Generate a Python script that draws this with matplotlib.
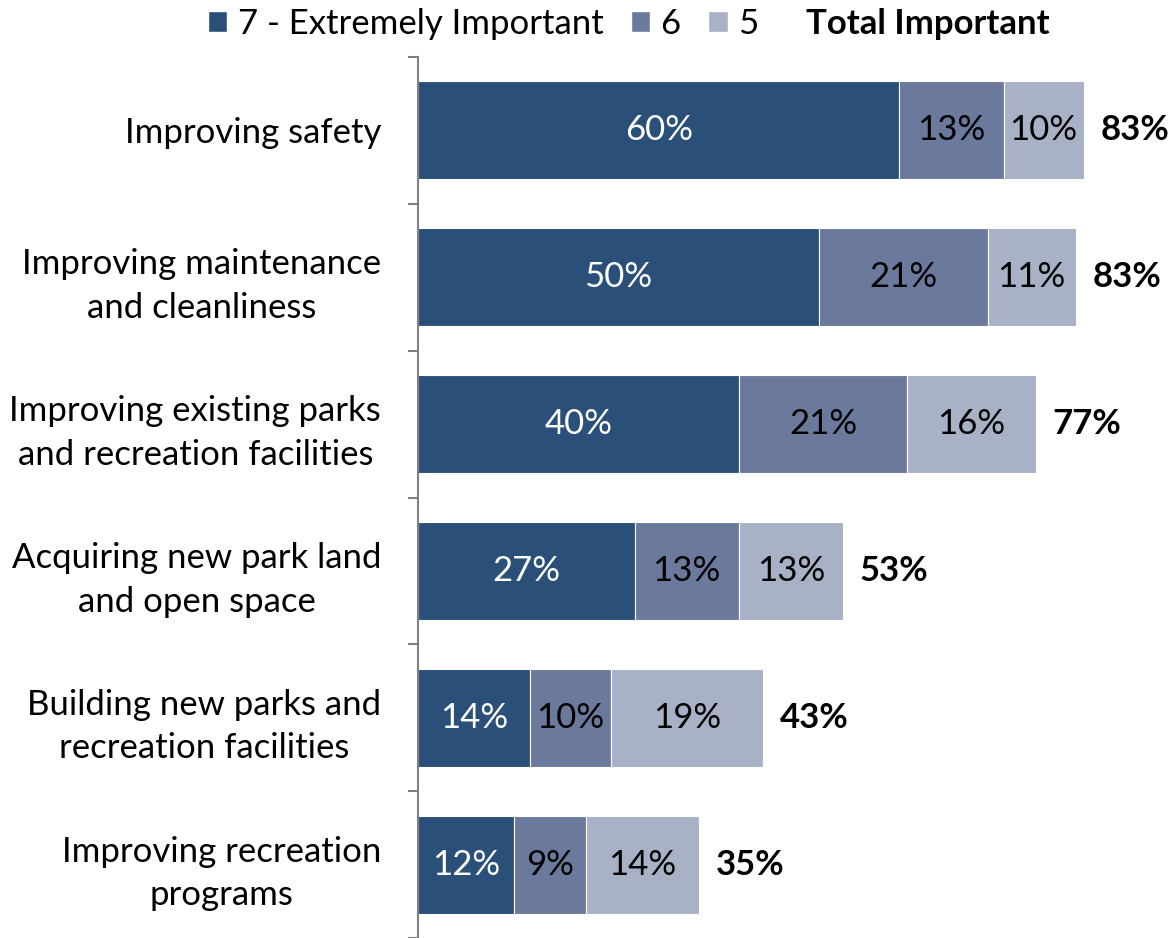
import matplotlib
matplotlib.use("Agg")
import matplotlib.pyplot as plt
from matplotlib.patches import Patch
import numpy as np

plt.rcParams['font.family'] = ['Lato', 'DejaVu Sans']

categories = [
    "Improving safety",
    "Improving maintenance\nand cleanliness",
    "Improving existing parks\nand recreation facilities",
    "Acquiring new park land\nand open space",
    "Building new parks and\nrecreation facilities",
    "Improving recreation\nprograms",
]
extremely = [60, 50, 40, 27, 14, 12]
six = [13, 21, 21, 13, 10, 9]
five = [10, 11, 16, 13, 19, 14]
total = [83, 83, 77, 53, 43, 35]
series_names = ["7 - Extremely Important", "6", "5"]

colors = ["#2A4F78", "#6B7A9C", "#A9B1C7"]
text_colors = ["white", "black", "black"]
FS = 25

fig = plt.figure(figsize=(11.68, 9.38), dpi=100)
ax = fig.add_axes([418/1168, 0.0, 1 - 418/1168, 1 - 57/938])

y = np.arange(len(categories))
left = np.zeros(len(categories))
for vals, c, tc in zip([extremely, six, five], colors, text_colors):
    vals = np.array(vals, dtype=float)
    ax.barh(y, vals, left=left, height=0.667, color=c,
            edgecolor="white", linewidth=0.8)
    for yi, l, v in zip(y, left, vals):
        ax.text(l + v / 2, yi, f"{int(v)}%", ha="center", va="center",
                color=tc, fontsize=FS)
    left += vals

for yi, l, t in zip(y, left, total):
    ax.annotate(f"{t}%", (l, yi), xytext=(12, 0), textcoords="offset points",
                ha="left", va="center", fontsize=FS, fontweight="bold")

ax.set_xlim(0, 93.5)
ax.set_ylim(len(categories) - 0.5, -0.5)
ax.set_yticks(y)
ax.set_yticklabels(categories, fontsize=FS, multialignment="center",
                   linespacing=1.45)
ax.set_yticks(np.arange(-0.5, len(categories), 1.0), minor=True)
ax.tick_params(axis="y", which="major", length=0, pad=26.5)
ax.tick_params(axis="y", which="minor", length=7.5, width=1.5, color="#808080",
               direction="out")
ax.set_xticks([])
for s in ["top", "right", "bottom"]:
    ax.spines[s].set_visible(False)
ax.spines["left"].set_color("#808080")
ax.spines["left"].set_linewidth(1.5)

handles = [Patch(facecolor=c, edgecolor="white") for c in colors]
fig.legend(handles, series_names, loc="center left",
           bbox_to_anchor=(208/1168, 1 - 24/938), ncol=3, frameon=False,
           fontsize=FS, handlelength=0.55, handleheight=0.55,
           handletextpad=0.3, columnspacing=0.8, borderaxespad=0,
           borderpad=0)
fig.text(806/1168, 1 - 24/938, "Total Important", ha="left", va="center",
         fontsize=FS, fontweight="bold")

fig.savefig("out.png", dpi=100)
